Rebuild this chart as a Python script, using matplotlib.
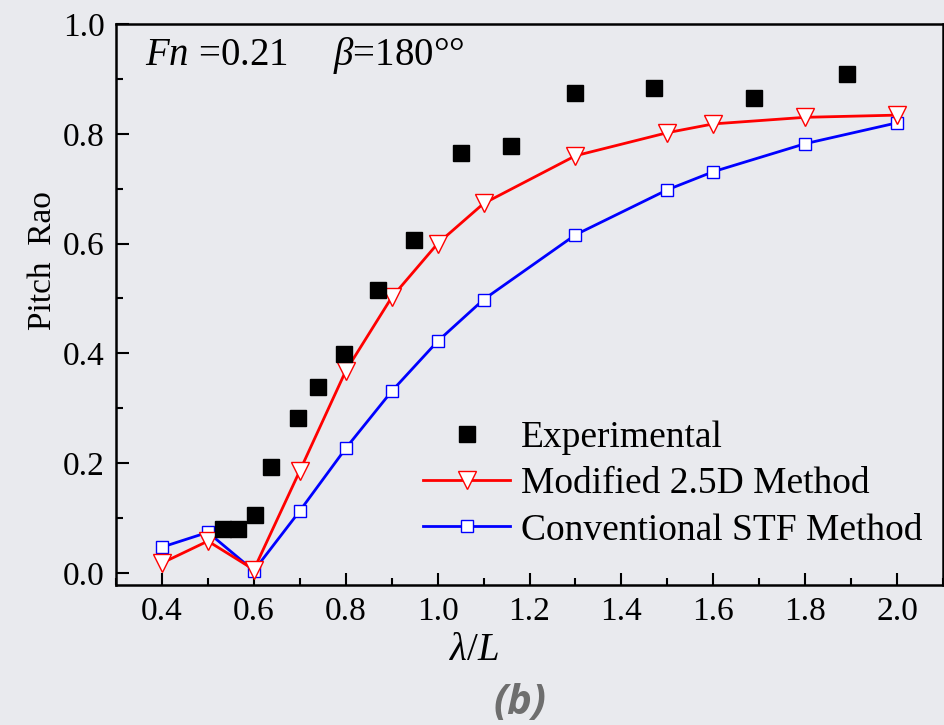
import numpy as np
import matplotlib
matplotlib.use('Agg')
import matplotlib.pyplot as plt
from matplotlib.ticker import MultipleLocator

plt.rcParams['font.family'] = ['Liberation Serif', 'DejaVu Serif']
plt.rcParams['mathtext.fontset'] = 'custom'
plt.rcParams['mathtext.rm'] = 'Liberation Serif'
plt.rcParams['mathtext.it'] = 'Liberation Serif:italic'

# experimental points
exp_x = [0.533, 0.565, 0.602, 0.637, 0.696, 0.740, 0.796, 0.870, 0.948,
         1.051, 1.160, 1.299, 1.471, 1.688, 1.891]
exp_y = [0.080, 0.080, 0.105, 0.193, 0.282, 0.338, 0.398, 0.515, 0.607,
         0.765, 0.778, 0.875, 0.884, 0.865, 0.909]

# modified 2.5D method
mod_x = [0.4, 0.5, 0.6, 0.7, 0.8, 0.9, 1.0, 1.1, 1.3, 1.5, 1.6, 1.8, 2.0]
mod_y = [0.018, 0.058, 0.006, 0.186, 0.368, 0.502, 0.600, 0.673, 0.760,
         0.802, 0.818, 0.830, 0.834]

# conventional STF method
stf_x = [0.4, 0.5, 0.6, 0.7, 0.8, 0.9, 1.0, 1.1, 1.3, 1.5, 1.6, 1.8, 2.0]
stf_y = [0.047, 0.074, 0.004, 0.113, 0.227, 0.331, 0.422, 0.498, 0.616,
         0.698, 0.731, 0.782, 0.820]

bg = '#e9eaee'
fig = plt.figure(figsize=(9.44, 7.25), dpi=100, facecolor=bg)
ax = fig.add_axes([0.1229, 0.1931, 0.8761, 0.7738])
ax.set_facecolor(bg)

ax.plot(stf_x, stf_y, color='blue', lw=2, marker='s', ms=8.5,
        mfc='white', mec='blue', mew=1.0, label='Conventional STF Method',
        zorder=3)
ax.plot(mod_x, mod_y, color='red', lw=2, marker='v', ms=13,
        mfc='white', mec='red', mew=1.0, label='Modified 2.5D Method',
        zorder=4)
ax.plot(exp_x, exp_y, ls='none', marker='s', ms=12, color='black',
        label='Experimental', zorder=5)

ax.set_xlim(0.3, 2.1)
ax.set_ylim(-0.022, 1.0)
ax.xaxis.set_minor_locator(MultipleLocator(0.1))
ax.yaxis.set_minor_locator(MultipleLocator(0.1))
xt = np.arange(0.4, 2.01, 0.2)
yt = np.arange(0.0, 1.01, 0.2)
ax.set_xticks(xt)
ax.set_xticklabels([f'{v:.1f}' for v in xt])
ax.set_yticks(yt)
ax.set_yticklabels([f'{v:.1f}' for v in yt])
ax.tick_params(axis='both', which='major', direction='in', length=9,
               width=1.5, labelsize=24, top=False, right=False, pad=8)
ax.tick_params(axis='both', which='minor', direction='in', length=5,
               width=1.5, top=False, right=False)
for s in ax.spines.values():
    s.set_linewidth(1.8)

ax.set_ylabel('Pitch  Rao', fontsize=24)
ax.yaxis.set_label_coords(-0.070, 0.579)
ax.set_xlabel(r'$\lambda/L$', fontsize=28)
ax.xaxis.set_label_coords(0.433, -0.084)

ax.text(0.035, 0.927, r'$Fn$ =0.21', transform=ax.transAxes,
        fontsize=28, va='baseline', ha='left')
ax.text(0.262, 0.927, r'$\beta$=180°°', transform=ax.transAxes,
        fontsize=28, va='baseline', ha='left')

h, l = ax.get_legend_handles_labels()
ax.legend(h[::-1], l[::-1], loc='lower left', bbox_to_anchor=(0.34, 0.02),
          frameon=False, fontsize=27, handlelength=2.3, handletextpad=0.3,
          labelspacing=0.31, borderpad=0.2)

fig.text(0.551, 0.030, '(b)', fontsize=30, fontweight='bold', style='italic',
         color='#6e6e6e', family='Open Sans', ha='center', va='center')

fig.savefig('out.png', dpi=100, facecolor=bg)
